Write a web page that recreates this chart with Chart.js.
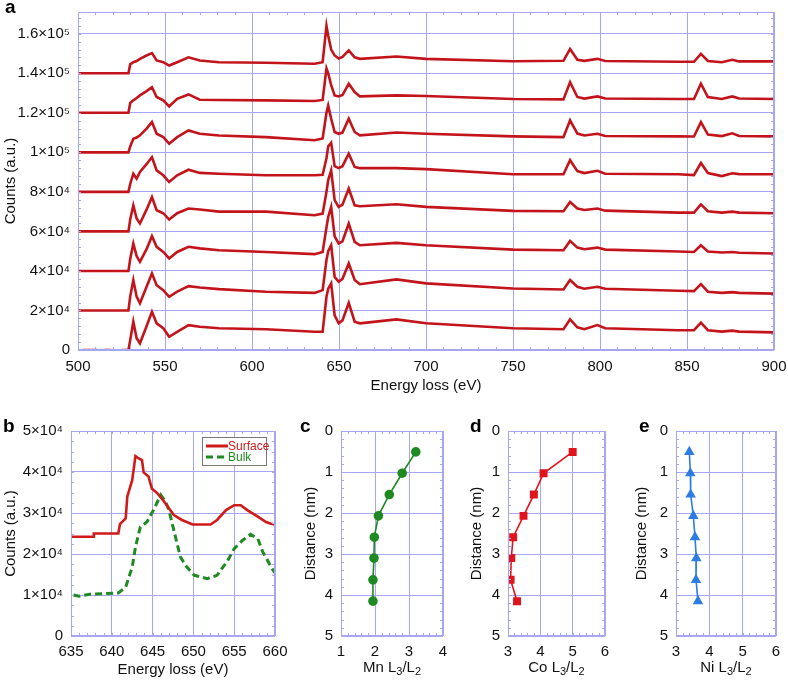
<!DOCTYPE html>
<html>
<head>
<meta charset="utf-8">
<script src="https://cdn.jsdelivr.net/npm/chart.js@4.4.1/dist/chart.umd.min.js"></script>
<style>
  body { margin: 0; background: #fff; width: 788px; height: 684px; position: relative; overflow: hidden; font-family: 'Liberation Sans', Arial, sans-serif; }
  canvas { position: absolute; }
  .tag { position: absolute; font-weight: bold; font-size: 19px; line-height: 19px; color: #000; z-index: 2; }
</style>
</head>
<body>
<div class="tag" style="left:5px;top:-3px">a</div>
<div class="tag" style="left:3px;top:416px">b</div>
<div class="tag" style="left:300px;top:416px">c</div>
<div class="tag" style="left:470px;top:416px">d</div>
<div class="tag" style="left:639px;top:416px">e</div>

<canvas id="chartA" width="788" height="400" style="left:0;top:0"></canvas>
<canvas id="chartB" width="290" height="269" style="left:0;top:415px"></canvas>
<canvas id="chartC" width="160" height="269" style="left:295px;top:415px"></canvas>
<canvas id="chartD" width="155" height="269" style="left:462px;top:415px"></canvas>
<canvas id="chartE" width="158" height="269" style="left:630px;top:415px"></canvas>

<script>
// ---- panel a: stacked spectra, counts in thousands ----
const energies = [500, 503, 511, 513, 515, 519, 522, 525, 529, 530, 531.8, 533.7, 535.6, 539.4, 542.5, 545.2, 549, 552.4, 557, 563.5, 570, 581, 608, 636, 640.6, 642.8, 643.8, 645.5, 647.5, 649.8, 652, 655.6, 659, 662, 683, 700, 750, 779, 782.8, 787, 791, 798.5, 803, 845, 854, 858, 862, 870, 876, 880, 900];

const spec1 = [140, 140, 140, 140, 140, 140, 140, 140, 140, 144.5, 145.6, 146.2, 147.3, 149, 150.2, 146.5, 145.6, 143.9, 145.6, 148.1, 146.5, 145.6, 145.3, 144.8, 145.6, 164, 159, 152, 149, 147.5, 148.3, 151.6, 148.1, 147.3, 148.5, 147.3, 146.1, 146.3, 152.3, 146.8, 146.3, 147.3, 146.2, 145.8, 145.8, 149.8, 146.2, 145.6, 146.8, 146, 146];
const spec2 = [120, 120, 120, 120, 120, 120, 120, 120, 120, 125, 126.3, 127.5, 128.8, 131, 133, 128, 126.3, 123.2, 127.1, 129.3, 126.6, 126.5, 126.3, 126.0, 126.5, 142.5, 140, 134.0, 128.8, 128.3, 129, 134.7, 130.5, 128.3, 128.8, 128.5, 127, 126.8, 135.5, 128, 127.2, 128.3, 127.2, 127, 127, 134.7, 128, 127, 128.3, 127.2, 127];
const spec3 = [100, 100, 100, 100, 100, 100, 100, 100, 100, 103, 106.9, 107.5, 108.6, 112, 115.3, 109.4, 107.7, 104.4, 107.7, 111.1, 109.4, 108.5, 107.7, 106.1, 107, 120, 123.7, 117, 110.3, 109.4, 110, 117, 110.3, 108.6, 110, 109.4, 108.1, 107.7, 116.2, 109.5, 108.5, 109.4, 108.3, 108.1, 108, 115.3, 109, 108.2, 109.6, 108.3, 108.1];
const spec4 = [80, 80, 80, 80, 80, 80, 80, 80, 80, 84, 89.2, 86.7, 90.1, 94, 97.6, 90.9, 88.4, 85, 88.4, 91.2, 89.6, 89.2, 88.4, 88.4, 88.6, 97, 103, 104.8, 93, 92, 93, 99.3, 92.6, 92, 92, 91.5, 88.9, 88.9, 96, 90.5, 89.5, 90.7, 89.2, 88.9, 88.5, 94.6, 89.5, 88, 89.4, 89, 88.9];
const spec5 = [60, 60, 60, 60, 60, 60, 60, 60, 60, 66, 73.2, 66.5, 64.0, 71, 77.4, 70.7, 69.2, 66.0, 69.2, 71.6, 71.1, 70, 70, 68.2, 69, 80, 86, 90.9, 75.8, 72.4, 73.5, 81.7, 73.2, 72.7, 73.7, 72.4, 70.4, 70.2, 74.9, 71.6, 70.8, 71.6, 70.5, 69.5, 69.5, 73.7, 70.2, 69.5, 70, 69.5, 69.2];
const spec6 = [40, 40, 40, 40, 40, 40, 40, 40, 40, 46, 53.9, 47.5, 44.6, 51, 57.6, 52.2, 49.6, 46.3, 49.6, 52.2, 51.4, 50.5, 49.6, 48.5, 49.6, 62, 67.3, 72.4, 57.5, 53.9, 55, 64, 54.7, 53, 54.2, 53, 50.8, 50.5, 55.2, 51.8, 51, 51.8, 50.8, 49.8, 49.6, 53, 49.8, 49.3, 49.6, 49.2, 48.8];
const spec7 = [20, 20, 20, 20, 20, 20, 20, 20, 20, 27, 35.4, 27, 23.6, 32, 38.7, 32.8, 30.3, 26.9, 29.5, 32.3, 31.6, 30.8, 29.5, 28.9, 30.3, 45.5, 50, 53, 37, 34.5, 36, 43.8, 35.4, 33.3, 35.7, 33.7, 31.1, 30.6, 35.4, 32, 31, 32, 31, 30, 29.8, 33.3, 29.5, 28.9, 29.3, 28.9, 28.5];
const spec8 = [null, 0, 0, null, 0, 0, null, 0, 0, 5, 14.3, 6, 3.4, 12, 19.3, 13.5, 11.0, 6.7, 9.2, 12.6, 11.8, 11.0, 10.5, 9.2, 9.2, 26.9, 31, 33.7, 17.5, 13.5, 15, 23.9, 14.3, 13.5, 15.5, 13.5, 11.0, 10.5, 15.5, 11.5, 10.5, 12.6, 11, 10, 10, 13.8, 10, 9.3, 9.8, 9.3, 8.9];

const countTicksA = [0, 20, 40, 60, 80, 100, 120, 140, 160];
const countLabelsA = ['0', '2×10⁴', '4×10⁴', '6×10⁴', '8×10⁴', '1×10⁵', '1.2×10⁵', '1.4×10⁵', '1.6×10⁵'];
const energyTicksA = [500, 550, 600, 650, 700, 750, 800, 850, 900];

// ---- panel b: surface vs bulk Mn L edge ----
const surfE = [635, 637.7, 637.8, 640.8, 641.0, 641.7, 641.9, 642.5, 642.9, 643.3, 643.7, 643.9, 644.5, 644.9, 645.6, 646.4, 647.6, 648.6, 649.9, 652.1, 652.9, 654.0, 655.0, 655.8, 656.6, 657.9, 658.9, 659.5, 660];
const surfCounts = [24.2, 24.2, 25, 25, 27.3, 28.7, 34, 38, 43.9, 43.3, 42.9, 39.9, 38.9, 36, 34.8, 32.8, 29.5, 28.3, 27.2, 27.2, 28.3, 30.7, 31.9, 31.9, 30.7, 29.1, 27.8, 27.4, 27.2];
const bulkE = [635.3, 636, 637.3, 640.8, 641.7, 642.5, 642.9, 643.5, 644.3, 645.1, 646.0, 646.6, 647.0, 647.6, 648.4, 649.2, 650.1, 651.7, 652.9, 654.2, 655.0, 656.0, 657.0, 657.9, 658.5, 659.1, 659.5, 660];
const bulkCounts = [10.0, 9.7, 10.2, 10.5, 11.9, 16.8, 21.7, 26.6, 27.8, 30.7, 34.4, 32.8, 30.7, 25.8, 19.3, 16.8, 14.8, 14.0, 14.8, 18.4, 21.3, 23.3, 24.8, 23.7, 20.5, 18.4, 16.8, 15.4];
const countTicksB = [0, 10, 20, 30, 40, 50];
const countLabelsB = ['0', '1×10⁴', '2×10⁴', '3×10⁴', '4×10⁴', '5×10⁴'];
const energyTicksB = [635, 640, 645, 650, 655, 660];

// ---- panels c, d, e: L3/L2 ratio vs distance ----
const distance = [0.51, 1.03, 1.55, 2.07, 2.59, 3.10, 3.63, 4.15];
const mnRatio = [3.20, 2.80, 2.42, 2.10, 1.98, 1.97, 1.94, 1.94];
const coRatio = [5.0, 4.1, 3.8, 3.48, 3.16, 3.10, 3.08, 3.28];
const niRatio = [3.40, 3.43, 3.44, 3.52, 3.57, 3.61, 3.60, 3.66];
const distanceTicks = [0, 1, 2, 3, 4, 5];

const gridColor = '#a6a6f2';
const fontFamily = "'Liberation Sans', 'DejaVu Sans', sans-serif";
Chart.defaults.font.family = fontFamily;
Chart.defaults.font.size = 15;
Chart.defaults.color = '#111';
Chart.defaults.animation = false;

// frame around the plot area plus small minor ticks on all four sides
const framePlugin = {
    id: 'frame',
    afterDraw(chart, args, opts) {
        const { ctx, chartArea: a, scales } = chart;
        const x = scales.x, y = scales.y;
        ctx.save();
        ctx.strokeStyle = gridColor;
        ctx.lineWidth = 1;
        ctx.strokeRect(a.left + 0.5, a.top + 0.5, a.width - 1, a.height - 1);
        ctx.beginPath();
        const nx = Math.round((x.max - x.min) / opts.xStep);
        for (let i = 0; i <= nx; i++) {
            const px = Math.round(x.getPixelForValue(x.min + i * opts.xStep)) + 0.5;
            ctx.moveTo(px, a.top); ctx.lineTo(px, a.top + 3);
            ctx.moveTo(px, a.bottom); ctx.lineTo(px, a.bottom - 3);
        }
        const ny = Math.floor((y.max - y.min) / opts.yStep + 1e-6);
        for (let i = 0; i <= ny; i++) {
            const py = Math.round(y.getPixelForValue(y.min + i * opts.yStep)) + 0.5;
            ctx.moveTo(a.left, py); ctx.lineTo(a.left + 3, py);
            ctx.moveTo(a.right, py); ctx.lineTo(a.right - 3, py);
        }
        ctx.stroke();
        ctx.restore();
    }
};

// boxed legend in the top-right corner of panel b
const boxLegend = {
    id: 'boxLegend',
    afterDraw(chart) {
        const { ctx, chartArea: a } = chart;
        const right = a.right - 8, top = a.top + 6;
        const left = right - 65;
        ctx.save();
        ctx.fillStyle = '#fff';
        ctx.fillRect(left, top, 65, 29);
        ctx.strokeStyle = '#777';
        ctx.lineWidth = 1;
        ctx.strokeRect(left + 0.5, top + 0.5, 64, 28);
        ctx.font = "12px " + fontFamily;
        ctx.textBaseline = 'middle';
        chart.data.datasets.forEach((ds, i) => {
            const yy = top + 9 + i * 11;
            ctx.strokeStyle = ds.borderColor;
            ctx.lineWidth = 3;
            ctx.setLineDash(ds.borderDash || []);
            ctx.beginPath();
            ctx.moveTo(left + 4, yy);
            ctx.lineTo(left + 26, yy);
            ctx.stroke();
            ctx.setLineDash([]);
            ctx.fillStyle = ds.borderColor;
            ctx.fillText(ds.label, left + 26, yy + 1);
        });
        ctx.restore();
    }
};

// x title with real subscripts, e.g. "Mn L3/L2"
const subTitle = {
    id: 'subTitle',
    afterDraw(chart, args, opts) {
        const { ctx, chartArea: a } = chart;
        const parts = [[opts.element + ' L', false], ['3', true], ['/L', false], ['2', true]];
        const big = '15px ' + fontFamily, small = '11px ' + fontFamily;
        ctx.save();
        let w = 0;
        parts.forEach(p => { ctx.font = p[1] ? small : big; w += ctx.measureText(p[0]).width; });
        let x = (a.left + a.right) / 2 - w / 2;
        const y = chart.height - 12;
        ctx.fillStyle = '#111';
        ctx.textBaseline = 'alphabetic';
        parts.forEach(p => {
            ctx.font = p[1] ? small : big;
            ctx.fillText(p[0], x, p[1] ? y + 3 : y);
            x += ctx.measureText(p[0]).width;
        });
        ctx.restore();
    }
};

const toPoints = (xs, ys) => xs.map((v, i) => ({ x: v, y: ys[i] }));
const fixedTicks = list => s => { s.ticks = list.map(v => ({ value: v })); };

// ---- chart a ----
const specs = [spec1, spec2, spec3, spec4, spec5, spec6, spec7, spec8];
new Chart(document.getElementById('chartA'), {
    type: 'line',
    data: {
        datasets: specs.map(s => ({
            data: toPoints(energies, s),
            borderColor: '#c2141a',
            borderWidth: 2.6,
            pointRadius: 0,
            tension: 0,
            spanGaps: false
        }))
    },
    options: {
        responsive: false,
        layout: { padding: { top: 12, right: 14, left: 0, bottom: 0 } },
        plugins: { legend: { display: false }, tooltip: { enabled: false }, frame: { xStep: 10, yStep: 4 } },
        scales: {
            x: {
                type: 'linear', min: 500, max: 900,
                afterBuildTicks: fixedTicks(energyTicksA),
                afterFit: s => { s.height = 50; s.paddingLeft = 0; s.paddingRight = 0; },
                grid: { color: gridColor, drawTicks: false },
                border: { display: false },
                ticks: { padding: 8, maxRotation: 0 },
                title: { display: true, text: 'Energy loss (eV)', padding: { top: 0, bottom: 5 } }
            },
            y: {
                min: 0, max: 171,
                afterBuildTicks: fixedTicks(countTicksA),
                afterFit: s => { s.width = 78; s.paddingTop = 0; s.paddingBottom = 0; },
                grid: { color: gridColor, drawTicks: false },
                border: { display: false },
                ticks: { padding: 8, callback: (v) => countLabelsA[countTicksA.indexOf(v)] },
                title: { display: true, text: 'Counts (a.u.)', padding: { top: 2, bottom: 0 } }
            }
        }
    },
    plugins: [framePlugin]
});

// ---- chart b ----
new Chart(document.getElementById('chartB'), {
    type: 'line',
    data: {
        datasets: [
            { label: 'Surface', data: toPoints(surfE, surfCounts), borderColor: '#d01a1a', borderWidth: 2.6, pointRadius: 0, tension: 0 },
            { label: 'Bulk', data: toPoints(bulkE, bulkCounts), borderColor: '#1f8a22', borderWidth: 3, borderDash: [7, 4], pointRadius: 0, tension: 0 }
        ]
    },
    options: {
        responsive: false,
        layout: { padding: { top: 16, right: 15, left: 0, bottom: 0 } },
        plugins: { legend: { display: false }, tooltip: { enabled: false }, frame: { xStep: 1, yStep: 2.5 } },
        scales: {
            x: {
                type: 'linear', min: 635, max: 660,
                afterBuildTicks: fixedTicks(energyTicksB),
                afterFit: s => { s.height = 48; s.paddingLeft = 0; s.paddingRight = 0; },
                grid: { color: gridColor, drawTicks: false },
                border: { display: false },
                ticks: { padding: 7, maxRotation: 0 },
                title: { display: true, text: 'Energy loss (eV)', padding: { top: 0, bottom: 5 } }
            },
            y: {
                min: 0, max: 50,
                afterBuildTicks: fixedTicks(countTicksB),
                afterFit: s => { s.width = 71; s.paddingTop = 0; s.paddingBottom = 0; },
                grid: { color: gridColor, drawTicks: false },
                border: { display: false },
                ticks: { padding: 8, callback: (v) => countLabelsB[countTicksB.indexOf(v)] },
                title: { display: true, text: 'Counts (a.u.)', padding: { top: 2, bottom: 0 } }
            }
        }
    },
    plugins: [framePlugin, boxLegend]
});

// ---- charts c, d, e ----
function ratioChart(id, ratios, color, pointStyle, radius, element, xTicks, titlePad) {
    return new Chart(document.getElementById(id), {
        type: 'scatter',
        data: {
            datasets: [{
                data: toPoints(ratios, distance),
                showLine: true,
                borderColor: color,
                backgroundColor: color,
                borderWidth: 1.6,
                pointStyle: pointStyle,
                pointRadius: radius,
                tension: 0
            }]
        },
        options: {
            responsive: false,
            layout: { padding: { top: 16, right: 12, left: 0, bottom: 0 } },
            plugins: {
                legend: { display: false }, tooltip: { enabled: false },
                frame: { xStep: 0.2, yStep: 0.2 },
                subTitle: { element: element }
            },
            scales: {
                x: {
                    type: 'linear', min: xTicks[0], max: xTicks[xTicks.length - 1],
                    afterBuildTicks: fixedTicks(xTicks),
                    afterFit: s => { s.height = 48; s.paddingLeft = 0; s.paddingRight = 0; },
                    grid: { color: gridColor, drawTicks: false },
                    border: { display: false },
                    ticks: { padding: 7, maxRotation: 0 }
                },
                y: {
                    type: 'linear', min: 0, max: 5, reverse: true,
                    afterBuildTicks: fixedTicks(distanceTicks),
                    afterFit: s => { s.width = 46; s.paddingTop = 0; s.paddingBottom = 0; },
                    grid: { color: gridColor, drawTicks: false },
                    border: { display: false },
                    ticks: { padding: 8 },
                    title: { display: true, text: 'Distance (nm)', padding: { top: titlePad, bottom: 0 } }
                }
            }
        },
        plugins: [framePlugin, subTitle]
    });
}

ratioChart('chartC', mnRatio, '#1f8a22', 'circle', 4, 'Mn', [1, 2, 3, 4], 6.5);
ratioChart('chartD', coRatio, '#e0141c', 'rect', 4.5, 'Co', [3, 4, 5, 6], 6.3);
ratioChart('chartE', niRatio, '#2d7ce2', 'triangle', 4.5, 'Ni', [3, 4, 5, 6], 3.3);
</script>
</body>
</html>
